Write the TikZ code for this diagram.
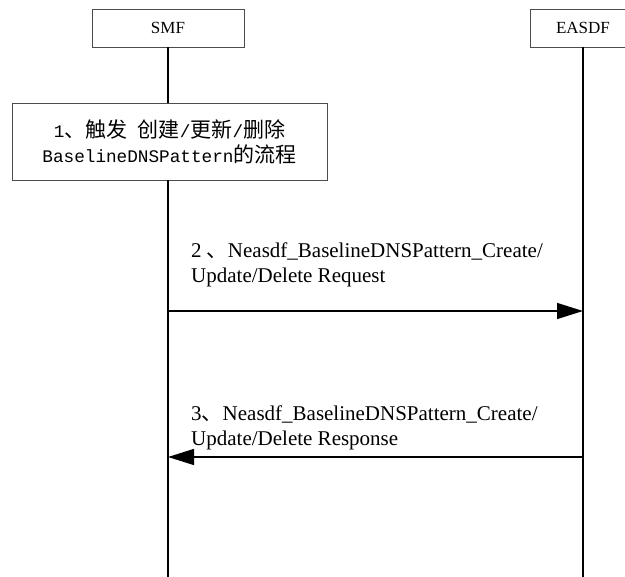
\documentclass[tikz,border=0pt]{standalone}
\usepackage{fontspec}
\setmainfont{Liberation Serif}
\setmonofont{Liberation Mono}
\newfontfamily\cjk{Noto Sans CJK SC}
\usetikzlibrary{arrows.meta}

\begin{document}
\begin{tikzpicture}[x=1pt, y=-1pt,
    entity/.style={draw=black!70, line width=0.8pt, inner sep=0pt, font=\fontsize{17}{20}\selectfont},
    procbox/.style={draw=black!70, line width=0.8pt, inner sep=0pt, align=center, minimum width=315pt, minimum height=77pt, font=\fontsize{17.7}{25}\selectfont\ttfamily},
    msglabel/.style={anchor=base west, inner sep=0pt, align=left, font=\fontsize{21}{25.5}\selectfont},
    msg/.style={line width=1.4pt, -{Triangle[length=26pt, width=16pt]}},
    life/.style={line width=1.4pt}]
    \useasboundingbox (0,0) rectangle (625,577);
    \node[entity, minimum width=152pt, minimum height=38pt] (smf) at (168,28) {SMF};
    \node[entity, minimum width=106pt, minimum height=38pt] (easdf) at (583,28) {EASDF};
    \node[procbox] (step1) at (169.5,141.5) {%
      1{\fontsize{21}{25}\selectfont\cjk 、触发} {\fontsize{21}{25}\selectfont\cjk 创建}/{\fontsize{21}{25}\selectfont\cjk 更新}/{\fontsize{21}{25}\selectfont\cjk 删除}\\
      BaselineDNSPattern{\fontsize{21}{25}\selectfont\cjk 的流程}};
    \coordinate (smfend) at (168,577);
    \coordinate (easdfend) at (583,577);
    \coordinate (req-s) at (168,311);
    \coordinate (req-e) at (583,311);
    \coordinate (rsp-s) at (583,457);
    \coordinate (rsp-e) at (168,457);
    \draw[life] (smf) -- (smf |- step1.north);
    \draw[life] (smf |- step1.south) -- (smfend);
    \draw[life] (easdf) -- (easdfend);
    \draw[msg] (req-s) -- (req-e);
    \draw[msg] (rsp-s) -- (rsp-e);
    \node[msglabel] (req) at (191,283) {2 {\cjk 、}Neasdf\_BaselineDNSPattern\_Create/\\Update/Delete Request};
    \node[msglabel] (rsp) at (191,446) {3{\cjk 、}Neasdf\_BaselineDNSPattern\_Create/\\Update/Delete Response};
  \end{tikzpicture}
\end{document}
